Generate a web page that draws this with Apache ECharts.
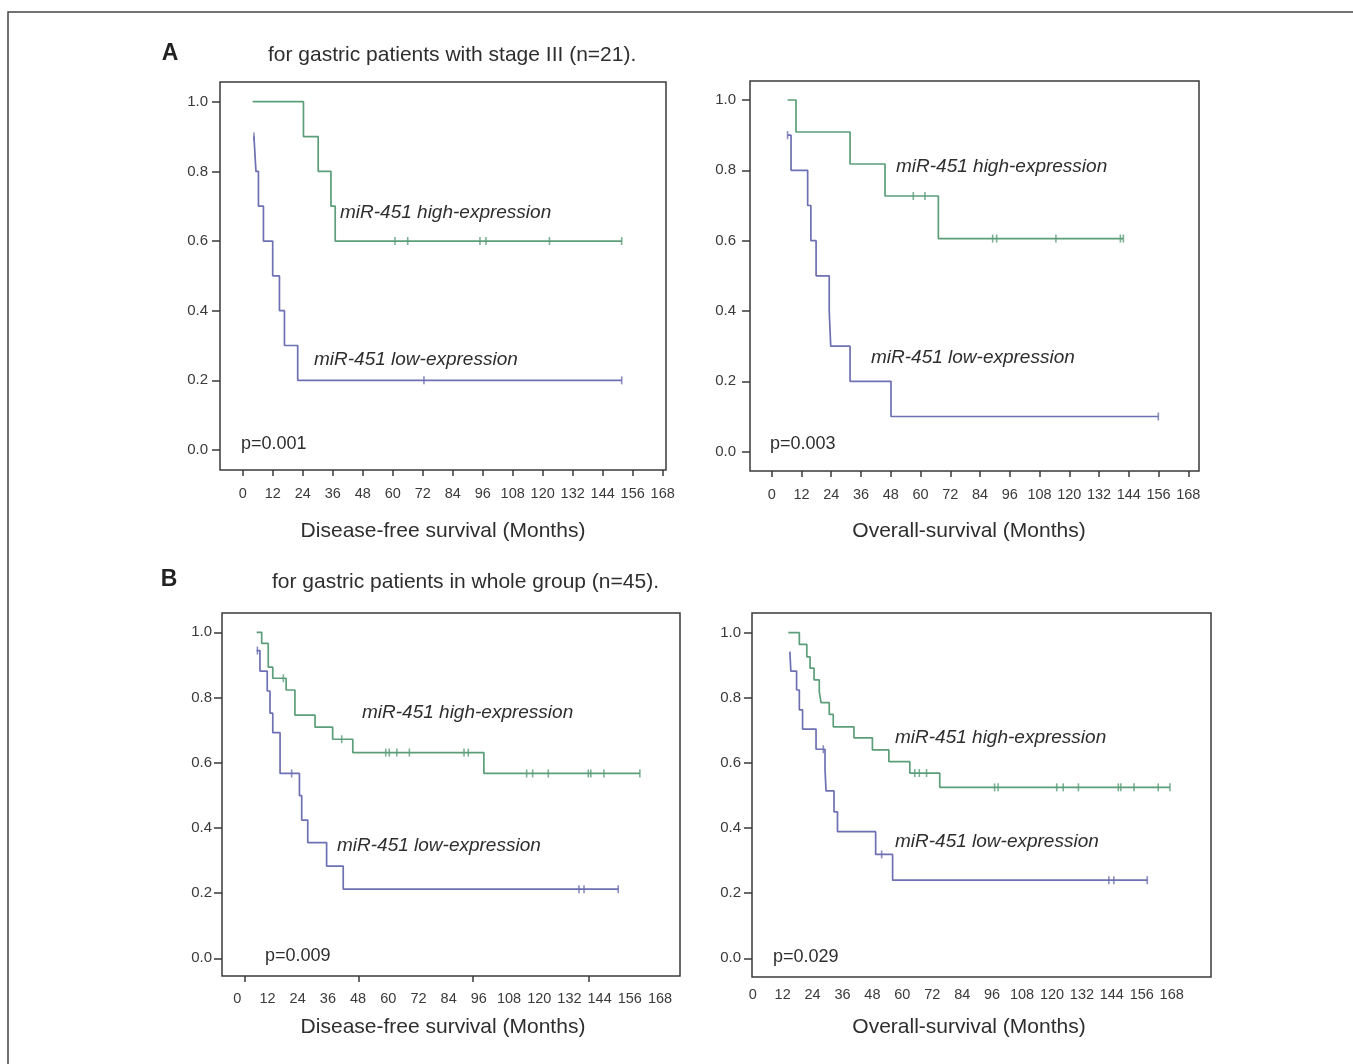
<!DOCTYPE html>
<html>
<head>
<meta charset="utf-8">
<script src="https://cdn.jsdelivr.net/npm/echarts@6/dist/echarts.min.js"></script>
<style>
html,body{margin:0;padding:0;background:#fff;}
#c{width:1353px;height:1064px;}
</style>
</head>
<body>
<div id="c"></div>
<script>
// ---- tick labels ----
const xTickVals = [0, 12, 24, 36, 48, 60, 72, 84, 96, 108, 120, 132, 144, 156, 168];
const yTickVals = [0, 0.2, 0.4, 0.6, 0.8, 1.0];
const bDfsBottomTicks = [3.1, 48.4, 93.6, 139.6];

// ---- A: stage III, disease-free survival ----
const aDfsHighT = [4, 24.3, 30.2, 35.3, 37, 151.6];
const aDfsHighS = [1.0, 0.9, 0.8, 0.7, 0.6, 0.6];
const aDfsHighCens = [60.9, 66, 94.9, 97.3, 122.7, 151.6];
const aDfsLowT = [4.5, 5.3, 6.3, 8.3, 12, 14.7, 16.7, 22, 151.6];
const aDfsLowS = [0.9, 0.8, 0.7, 0.6, 0.5, 0.4, 0.3, 0.2, 0.2];
const aDfsLowCens = [4.5, 72.5, 151.6];

// ---- A: stage III, overall survival ----
const aOsHighT = [6.4, 9.8, 31.6, 45.7, 67.2, 141.8];
const aOsHighS = [1.0, 0.909, 0.818, 0.727, 0.606, 0.606];
const aOsHighCens = [57.1, 61.8, 89.1, 90.7, 114.6, 140.6, 141.8];
const aOsLowT = [6.4, 7.8, 14.5, 15.8, 17.9, 23.2, 23.8, 31.6, 48.1, 155.9];
const aOsLowS = [0.9, 0.8, 0.7, 0.6, 0.5, 0.4, 0.3, 0.2, 0.1, 0.1];
const aOsLowCens = [6.4, 155.9];

// ---- B: whole group, disease-free survival ----
const bDfsHighT = [7.7, 9.7, 12.3, 14.1, 19.4, 22.9, 30.9, 37.9, 45.9, 98, 160];
const bDfsHighS = [1.0, 0.966, 0.893, 0.859, 0.823, 0.746, 0.709, 0.672, 0.631, 0.567, 0.567];
const bDfsHighCens = [18.3, 41.5, 59, 60.4, 63.4, 68.4, 90.1, 91.8, 115, 117.4, 123.6, 139.5, 140.5, 145.7, 160];
const bDfsLowT = [7.7, 9, 11.9, 13, 14.1, 17, 24.7, 25.6, 28, 35.5, 42.1, 151.4];
const bDfsLowS = [0.944, 0.881, 0.82, 0.752, 0.692, 0.567, 0.499, 0.424, 0.355, 0.283, 0.212, 0.212];
const bDfsLowCens = [8, 21.6, 135.8, 137.8, 151.4];

// ---- B: whole group, overall survival ----
const bOsHighT = [14.3, 18.7, 21.7, 23, 24.6, 26.7, 27.4, 30.7, 32.3, 40.6, 48, 54.6, 63, 75, 167.3];
const bOsHighS = [1.0, 0.964, 0.926, 0.891, 0.855, 0.819, 0.785, 0.749, 0.711, 0.677, 0.64, 0.604, 0.569, 0.525, 0.525];
const bOsHighCens = [65, 66.8, 69.7, 97, 98.4, 121.9, 124.5, 130.6, 146.6, 147.6, 152.9, 162.6, 167.3];
const bOsLowT = [14.9, 15.3, 17.6, 18.7, 20, 25.4, 29, 29.4, 32.6, 34, 49.3, 56.1, 158.2];
const bOsLowS = [0.942, 0.882, 0.824, 0.763, 0.704, 0.642, 0.58, 0.514, 0.45, 0.389, 0.319, 0.24, 0.24];
const bOsLowCens = [28.3, 51.7, 142.8, 144.8, 158.2];

// ---- texts ----
const highLabel = 'miR-451 high-expression';
const lowLabel = 'miR-451 low-expression';
const pValues = ['p=0.001', 'p=0.003', 'p=0.009', 'p=0.029'];
const xTitles = ['Disease-free survival (Months)', 'Overall-survival (Months)', 'Disease-free survival (Months)', 'Overall-survival (Months)'];
const headerA = 'for gastric patients with stage III (n=21).';
const headerB = 'for gastric patients in whole group (n=45).';

const GREEN = '#5b9e79';
const BLUE = '#6d70b2';
const FONT = '"Liberation Sans", Arial, Helvetica, sans-serif';

function survAt(T, S, t) {
  let s = S[0];
  for (let i = 0; i < T.length; i++) if (T[i] <= t + 1e-9) s = S[i];
  return s;
}

const panels = [
  { grid: {left: 220, top: 82, width: 446, height: 388}, xMin: -9.08, xMax: 169.32, yMin: -0.0574, yMax: 1.0566,
    xLabelMargin: 16, yLabelMargin: 12, xTicks: xTickVals,
    curves: [[aDfsHighT, aDfsHighS, aDfsHighCens, GREEN], [aDfsLowT, aDfsLowS, aDfsLowCens, BLUE]],
    hiPos: [340, 213], loPos: [314, 360], pPos: [241, 444], titlePos: [443, 531] },
  { grid: {left: 750, top: 81, width: 449, height: 390}, xMin: -8.75, xMax: 172.3, yMin: -0.0549, yMax: 1.054,
    xLabelMargin: 16, yLabelMargin: 14, xTicks: xTickVals,
    curves: [[aOsHighT, aOsHighS, aOsHighCens, GREEN], [aOsLowT, aOsLowS, aOsLowCens, BLUE]],
    hiPos: [896, 167], loPos: [871, 358], pPos: [770, 444], titlePos: [969, 531] },
  { grid: {left: 222, top: 613, width: 458, height: 363}, xMin: -6.08, xMax: 175.95, yMin: -0.0543, yMax: 1.0592,
    xLabelMargin: 15, yLabelMargin: 10, xTicks: bDfsBottomTicks,
    curves: [[bDfsHighT, bDfsHighS, bDfsHighCens, GREEN], [bDfsLowT, bDfsLowS, bDfsLowCens, BLUE]],
    hiPos: [362, 713], loPos: [337, 846], pPos: [265, 956], titlePos: [443, 1027] },
  { grid: {left: 752, top: 613, width: 459, height: 364}, xMin: -0.28, xMax: 183.76, yMin: -0.0574, yMax: 1.0605,
    xLabelMargin: 10, yLabelMargin: 11, xTicks: null,
    curves: [[bOsHighT, bOsHighS, bOsHighCens, GREEN], [bOsLowT, bOsLowS, bOsLowCens, BLUE]],
    hiPos: [895, 738], loPos: [895, 842], pPos: [773, 957], titlePos: [969, 1027] }
];

const grids = [], xAxes = [], yAxes = [], series = [], graphics = [];

panels.forEach((p, i) => {
  grids.push(Object.assign({ show: true, borderColor: '#3a3a3a', borderWidth: 1.5, backgroundColor: '#fff' }, p.grid));
  xAxes.push({
    type: 'value', gridIndex: i, min: p.xMin, max: p.xMax, position: 'bottom',
    axisLine: { show: false, onZero: false },
    splitLine: { show: false },
    axisTick: p.xTicks ? { show: true, customValues: p.xTicks, length: 6, lineStyle: { color: '#3a3a3a', width: 1.5 } } : { show: false },
    axisLabel: { customValues: xTickVals, margin: p.xLabelMargin, color: '#3a3a3a', fontSize: 14.5, fontFamily: FONT }
  });
  yAxes.push({
    type: 'value', gridIndex: i, min: p.yMin, max: p.yMax, position: 'left',
    axisLine: { show: false, onZero: false },
    splitLine: { show: false },
    axisTick: { show: true, customValues: yTickVals, length: 8, lineStyle: { color: '#3a3a3a', width: 1.5 } },
    axisLabel: { customValues: yTickVals, margin: p.yLabelMargin, color: '#3a3a3a', fontSize: 15, fontFamily: FONT,
      formatter: v => v.toFixed(1) }
  });
  p.curves.forEach(([T, S, C, col]) => {
    series.push({
      type: 'line', step: 'end', xAxisIndex: i, yAxisIndex: i,
      data: T.map((t, k) => [t, S[k]]),
      showSymbol: false, symbol: 'none',
      lineStyle: { color: col, width: 1.7 }, z: 3
    });
    series.push({
      type: 'scatter', xAxisIndex: i, yAxisIndex: i,
      data: C.map(t => [t, survAt(T, S, t)]),
      symbol: 'rect', symbolSize: [1.6, 8],
      itemStyle: { color: col }, z: 4
    });
  });
  const txt = (x, y, text, font, align) => graphics.push({
    type: 'text', x: x, y: y, z: 10,
    style: { text: text, font: font, fill: '#2e2e2e', align: align || 'left', verticalAlign: 'middle' }
  });
  txt(p.hiPos[0], p.hiPos[1], highLabel, 'italic 19px ' + FONT);
  txt(p.loPos[0], p.loPos[1], lowLabel, 'italic 19px ' + FONT);
  txt(p.pPos[0], p.pPos[1], pValues[i], '18px ' + FONT);
  txt(p.titlePos[0], p.titlePos[1], xTitles[i], '21px ' + FONT, 'center');
});

// panel headers
graphics.push({ type: 'text', x: 170, y: 54, z: 10, style: { text: 'A', font: 'bold 23px ' + FONT, fill: '#222', align: 'center', verticalAlign: 'middle' } });
graphics.push({ type: 'text', x: 268, y: 55, z: 10, style: { text: headerA, font: '21px ' + FONT, fill: '#2e2e2e', align: 'left', verticalAlign: 'middle' } });
graphics.push({ type: 'text', x: 169, y: 580, z: 10, style: { text: 'B', font: 'bold 23px ' + FONT, fill: '#222', align: 'center', verticalAlign: 'middle' } });
graphics.push({ type: 'text', x: 272, y: 582, z: 10, style: { text: headerB, font: '21px ' + FONT, fill: '#2e2e2e', align: 'left', verticalAlign: 'middle' } });
// outer figure frame (top and left edges)
graphics.push({ type: 'polyline', z: 1, shape: { points: [[8, 1064], [8, 12], [1353, 12]] }, style: { stroke: '#444', lineWidth: 1.5, fill: null } });

const chart = echarts.init(document.getElementById('c'), null, { renderer: 'canvas' });
chart.setOption({
  animation: false,
  backgroundColor: '#fff',
  grid: grids,
  xAxis: xAxes,
  yAxis: yAxes,
  series: series,
  graphic: graphics
});
</script>
</body>
</html>
